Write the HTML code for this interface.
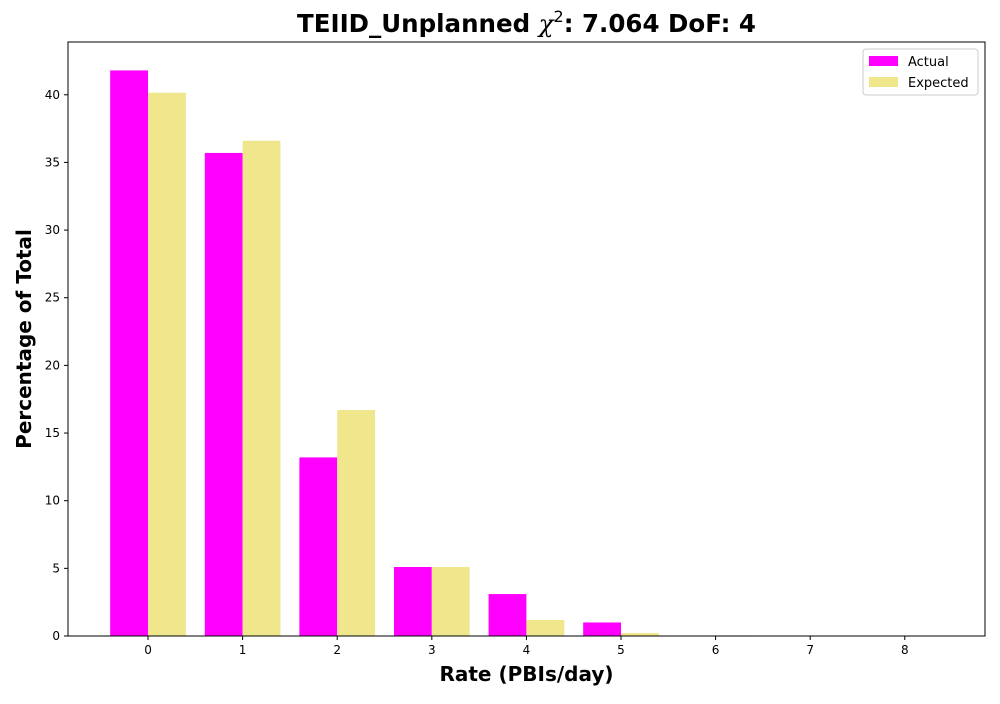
<!DOCTYPE html>
<html><head><meta charset="utf-8"><style>
body{margin:0;background:#fff;font-family:"DejaVu Sans","Liberation Sans",sans-serif}
</style></head><body>
<svg id="chart" width="1000" height="700" xmlns="http://www.w3.org/2000/svg" font-family="DejaVu Sans, Liberation Sans, sans-serif"></svg>
<script>
const categories=[0,1,2,3,4,5,6,7,8];
const actual=[41.8,35.7,13.2,5.1,3.1,1.0,0,0,0];
const expected=[40.15,36.6,16.7,5.1,1.18,0.22,0.04,0,0];
const yTicks=[0,5,10,15,20,25,30,35,40];
const L=68,R=985,T=42,B=636;
const xMin=-0.846,xMax=8.848,yMin=0,yMax=43.9;
const xs=v=>L+(v-xMin)/(xMax-xMin)*(R-L);
const ys=v=>B-(v-yMin)/(yMax-yMin)*(B-T);
const svg=document.getElementById('chart');
const NS='http://www.w3.org/2000/svg';
function mk(tag,attrs,name,txt){const e=document.createElementNS(NS,tag);for(const k in attrs)e.setAttribute(k,attrs[k]);


if(txt!==undefined)e.textContent=txt;svg.appendChild(e);return e;}
categories.forEach((c,i)=>{
 const w=xs(0.4)-xs(0);
 mk('rect',{x:xs(c-0.4),y:ys(actual[i]),width:w,height:ys(0)-ys(actual[i]),fill:'#ff00ff'},'bar-actual-'+c);
 mk('rect',{x:xs(c),y:ys(expected[i]),width:w,height:ys(0)-ys(expected[i]),fill:'#f0e68c'},'bar-expected-'+c);
});
mk('rect',{x:L,y:T,width:R-L,height:B-T,fill:'none',stroke:'#000','stroke-width':1},'plot-frame');
categories.forEach(c=>{
 mk('line',{x1:xs(c),x2:xs(c),y1:B,y2:B+4,stroke:'#000'},'x-tick');
 mk('text',{x:xs(c),y:B+18,'text-anchor':'middle','font-size':12},'x-tick-label',String(c));
});
yTicks.forEach(t=>{
 mk('line',{x1:L-4,x2:L,y1:ys(t),y2:ys(t),stroke:'#000'},'y-tick');
 mk('text',{x:L-8,y:ys(t)+4,'text-anchor':'end','font-size':12},'y-tick-label',String(t));
});
mk('text',{x:(L+R)/2,y:681,'text-anchor':'middle','font-size':20,'font-weight':'bold'},'x-axis-title','Rate (PBIs/day)');
mk('text',{x:31,y:(T+B)/2,'text-anchor':'middle','font-size':20,'font-weight':'bold',transform:`rotate(-90 31 ${(T+B)/2})`},'y-axis-title','Percentage of Total');
const title=mk('text',{x:(L+R)/2,y:32,'text-anchor':'middle','font-size':24.5,'font-weight':'bold'},'chart-title');
title.innerHTML='TEIID_Unplanned <tspan font-family="DejaVu Serif" font-style="italic" font-weight="normal">χ</tspan><tspan font-size="16" dy="-10" font-weight="normal">2</tspan><tspan dy="10">: 7.064 DoF: 4</tspan>';
mk('rect',{x:863,y:49,width:115,height:46,rx:3,fill:'#fff',stroke:'#ccc'},'legend-box');
mk('rect',{x:869,y:56,width:29,height:10,fill:'#ff00ff'},'legend-swatch-actual');
mk('text',{x:908,y:66,'font-size':13},'legend-label-actual','Actual');
mk('rect',{x:869,y:77,width:29,height:10,fill:'#f0e68c'},'legend-swatch-expected');
mk('text',{x:908,y:87,'font-size':13},'legend-label-expected','Expected');
</script>
</body></html>
